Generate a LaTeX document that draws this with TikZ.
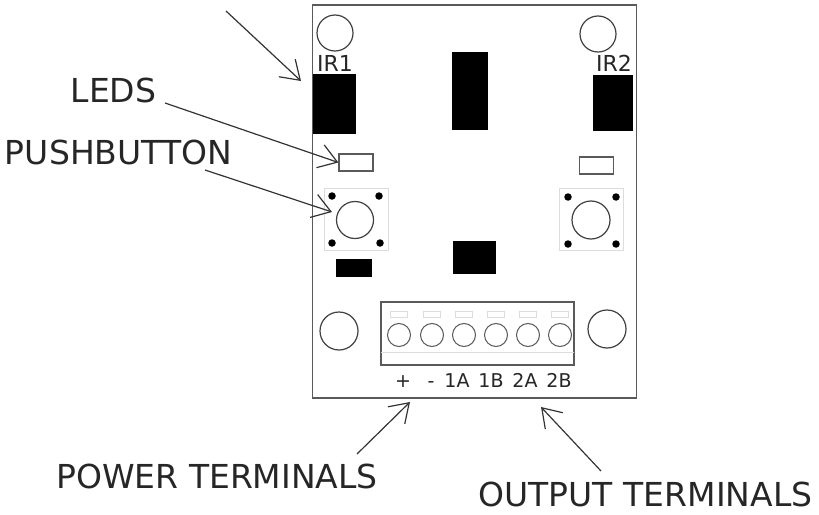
\documentclass[tikz,border=0pt]{standalone}
\usepackage{fontspec}
\setmainfont{DejaVu Sans}
\usetikzlibrary{arrows.meta,positioning}
\definecolor{edgegray}{RGB}{90,90,90}
\definecolor{padgray}{RGB}{220,220,220}

\begin{document}
\begin{tikzpicture}[
    x=1pt, y=-1pt,
    board/.style={rectangle, draw=edgegray, line width=1.3pt, fill=white, inner sep=0pt},
    hole/.style={circle, draw=black!75, line width=1.2pt, inner sep=0pt, minimum size=#1},
    chip/.style={rectangle, fill=black, inner sep=0pt},
    led/.style={rectangle, draw=edgegray, line width=1.2pt, inner sep=0pt, minimum width=34pt, minimum height=17pt},
    switchbase/.style={rectangle, draw=padgray, line width=1pt, inner sep=0pt, minimum width=64pt, minimum height=62pt},
    pin/.style={circle, fill=black, inner sep=0pt, minimum size=7.5pt},
    screw/.style={circle, draw=black!65, line width=1pt, inner sep=0pt, minimum size=23pt},
    tab/.style={rectangle, draw=padgray, line width=.8pt, inner sep=0pt, minimum width=17pt, minimum height=6pt},
    callout/.style={font=\fontsize{33}{33}\selectfont, inner sep=0pt, anchor=base, text=black!85},
    pinlabel/.style={font=\fontsize{19}{19}\selectfont, inner sep=0pt, anchor=base, text=black!85},
    irlabel/.style={font=\fontsize{22}{22}\selectfont, inner sep=0pt, anchor=base, text=black!85},
    arrow/.style={-{Straight Barb[length=18pt,width=24pt]}, line width=1.2pt, color=black!80}
]
\useasboundingbox (0,0) rectangle (819,514);

% Board
\node[board, minimum width=324pt, minimum height=393pt] (pcb) at (474.5,201.5) {};

% Mounting holes
\node[hole=36pt] (holeA) at (335,33) {};
\node[hole=36pt] (holeB) at (598,34) {};
\node[hole=38pt] (holeC) at (339,331) {};
\node[hole=38pt] (holeD) at (607,329) {};

% Sensors and chips
\node[irlabel] (irone) at (335,71.5) {IR1};
\node[irlabel] (irtwo) at (614,71) {IR2};
\node[chip, minimum width=43pt, minimum height=60pt] (sensorA) at (334.5,104) {};
\node[chip, minimum width=40pt, minimum height=56pt] (sensorB) at (613,103) {};
\node[chip, minimum width=36pt, minimum height=78pt] (chipA) at (469.5,90.5) {};
\node[chip, minimum width=36pt, minimum height=18pt] (chipB) at (354,268) {};
\node[chip, minimum width=43pt, minimum height=33pt] (chipC) at (474.5,257.5) {};

% LEDs
\node[led] (ledA) at (356,162.5) {};
\node[led] (ledB) at (596.5,165.5) {};

% Pushbuttons
\node[switchbase] (baseA) at (356,219) {};
\node[hole=37pt] (buttonA) at (355,220) {};
\foreach \px/\py in {332/196,379/196,332/243,380/243}
    \node[pin] (pinA\px\py) at (\px,\py) {};
\node[switchbase] (baseB) at (591.5,219.5) {};
\node[hole=38pt] (buttonB) at (591,220) {};
\foreach \px/\py in {568/197,616/197,568/244,616/244}
    \node[pin] (pinB\px\py) at (\px,\py) {};

% Terminal block
\node[rectangle, draw=edgegray, line width=1.3pt, inner sep=0pt, minimum width=193pt, minimum height=63pt] (block) at (477.5,333.5) {};
\coordinate (stripL) at (381,352);
\coordinate (stripR) at (574,352);
\draw[padgray, line width=1pt] (stripL) -- (stripR);
\foreach \sx in {399,432,464,496,528,560} {
    \node[tab] (tab\sx) at (\sx,314) {};
    \node[screw] (screw\sx) at (\sx,335) {};
}
\foreach \lx/\ltext in {403/+,431/-,457/1A,491/1B,525/2A,559/2B}
    \node[pinlabel] (term\lx) at (\lx,387) {\ltext};

% Callouts
\node[callout] (ledslabel) at (113.5,102) {LEDS};
\node[callout] (pushlabel) at (118.5,164) {PUSHBUTTON};
\node[callout] (powerlabel) at (217,488) {POWER TERMINALS};
\node[callout] (outputlabel) at (645.5,506) {OUTPUT TERMINALS};

% Arrows
\coordinate (irtail) at (226,11);
\coordinate (irtip) at (301,81);
\coordinate (ledtail) at (165,103);
\coordinate (pushtail) at (205,170);
\coordinate (pushtip) at (332,212);
\coordinate (powertail) at (357,454);
\coordinate (powertip) at (410,402);
\coordinate (outputtail) at (601,471);
\coordinate (outputtip) at (541,407);
\draw[arrow] (irtail) -- (irtip);
\draw[arrow] (ledtail) -- (ledA.west);
\draw[arrow] (pushtail) -- (pushtip);
\draw[arrow] (powertail) -- (powertip);
\draw[arrow] (outputtail) -- (outputtip);

\end{tikzpicture}
\end{document}
